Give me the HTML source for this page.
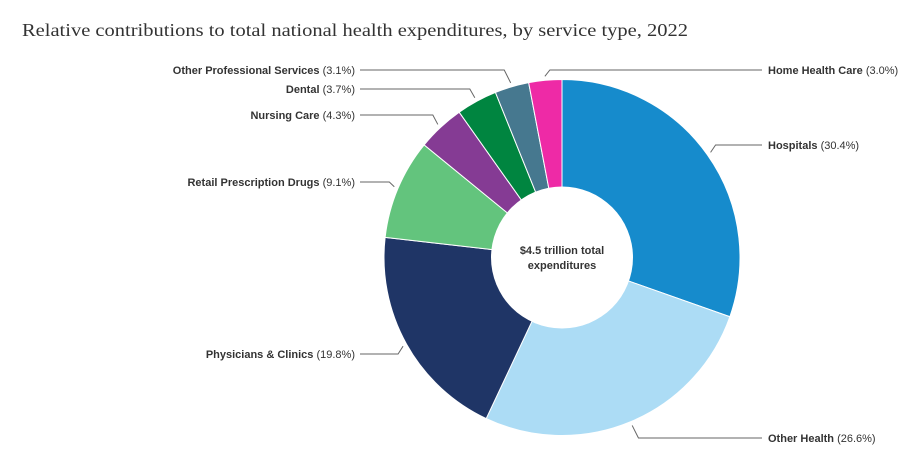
<!DOCTYPE html>
<html><head><meta charset="utf-8"><style>
body{margin:0;background:#fff;width:912px;height:468px;overflow:hidden;font-family:"Liberation Sans",sans-serif}
</style></head><body>
<svg width="912" height="468" viewBox="0 0 912 468">
<text x="22" y="36" font-family="Liberation Serif, serif" font-size="18" fill="#333" textLength="666" lengthAdjust="spacingAndGlyphs">Relative contributions to total national health expenditures, by service type, 2022</text>
<g id="slices"></g><g id="leaders"></g><g id="labels"></g>
<circle cx="562" cy="257.5" r="71" fill="#fff"/>
<text text-anchor="middle" font-size="11" font-weight="bold" fill="#333"><tspan x="562" y="254">$4.5 trillion total</tspan><tspan x="562" y="269">expenditures</tspan></text>
</svg>
<script>
const categories=["Hospitals","Other Health","Physicians & Clinics","Retail Prescription Drugs","Nursing Care","Dental","Other Professional Services","Home Health Care"];
const values=[30.4,26.6,19.8,9.1,4.3,3.7,3.1,3.0];
const valueLabels=["30.4%","26.6%","19.8%","9.1%","4.3%","3.7%","3.1%","3.0%"];
const colors=["#168bcc","#acdcf5","#1f3566","#63c47d","#853b94","#008540","#46788f","#ee2aa6"];
const labelY=[145,438,354,182,115,89,70,70];
const labelRight=[true,true,false,false,false,false,false,true];
const NS="http://www.w3.org/2000/svg",cx=562,cy=257.5,R=178;
const total=values.reduce((a,b)=>a+b,0);
function pt(a,r){return [cx+r*Math.sin(a),cy-r*Math.cos(a)];}
let acc=0;
const gs=document.getElementById('slices'),gl=document.getElementById('leaders'),gt=document.getElementById('labels');
values.forEach((v,i)=>{
 const a0=acc/total*2*Math.PI,a1=(acc+v)/total*2*Math.PI;acc+=v;
 const p0=pt(a0,R),p1=pt(a1,R);
 const p=document.createElementNS(NS,'path');
 p.setAttribute('d',`M${cx},${cy}L${p0[0]},${p0[1]}A${R},${R} 0 ${a1-a0>Math.PI?1:0} 1 ${p1[0]},${p1[1]}Z`);
 p.setAttribute('fill',colors[i]);p.setAttribute('stroke','#fff');p.setAttribute('stroke-width','1');
 
 
 gs.appendChild(p);
 const am=(a0+a1)/2,s=pt(am,R+4),right=labelRight[i],sg=right?1:-1;
 const ly=labelY[i],ex=s[0]+sg*Math.max(5,Math.abs(ly-s[1])*0.5);
 const lx=right?762:360;
 const l=document.createElementNS(NS,'polyline');
 l.setAttribute('points',`${s[0]},${s[1]} ${ex},${ly} ${lx},${ly}`);
 l.setAttribute('fill','none');l.setAttribute('stroke','#666');l.setAttribute('stroke-width','1');
 
 
 gl.appendChild(l);
 const t=document.createElementNS(NS,'text');
 t.setAttribute('x',right?768:355);t.setAttribute('y',ly+4);
 t.setAttribute('text-anchor',right?'start':'end');t.setAttribute('font-size','11');t.setAttribute('fill','#333');
 
 
 const b=document.createElementNS(NS,'tspan');b.setAttribute('font-weight','bold');b.textContent=categories[i];
 const n=document.createElementNS(NS,'tspan');n.textContent=' ('+valueLabels[i]+')';
 t.appendChild(b);t.appendChild(n);gt.appendChild(t);
});
</script>
</body></html>
